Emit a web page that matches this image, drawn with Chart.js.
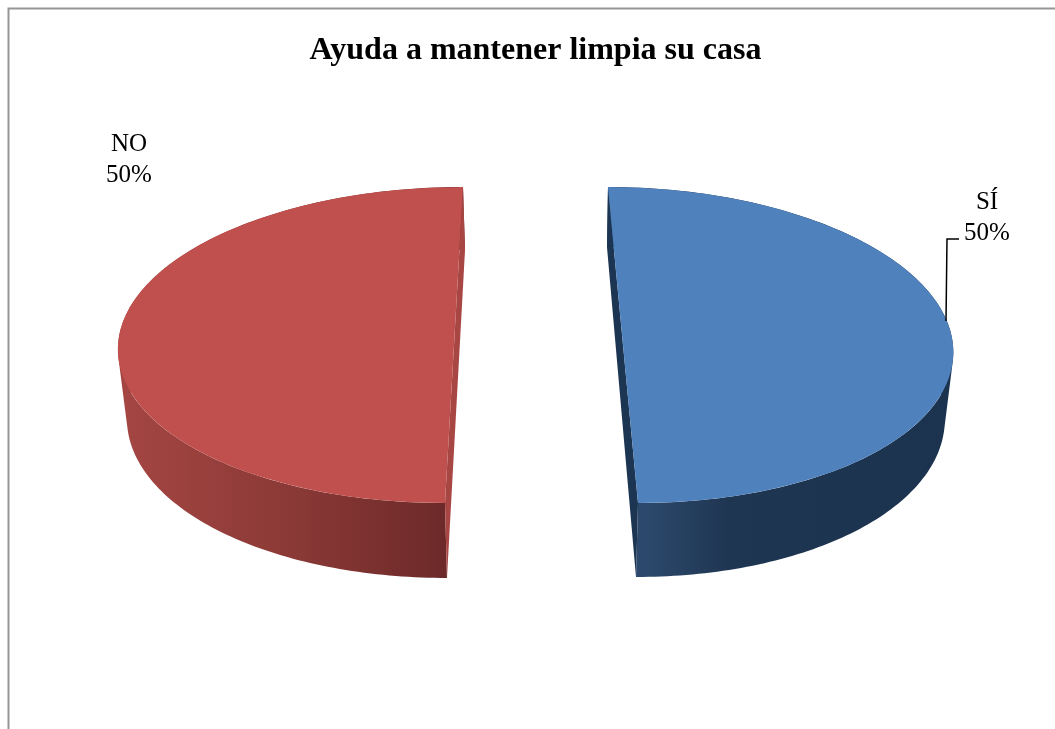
<!DOCTYPE html>
<html>
<head>
<meta charset="utf-8">
<style>
  html, body { margin: 0; padding: 0; background: #fff; overflow: hidden; }
  canvas { display: block; }
</style>
<script src="https://cdn.jsdelivr.net/npm/chart.js@4"></script>
</head>
<body>
<canvas id="mainChart" width="1055" height="729"></canvas>
<script>
const titleText = "Ayuda a mantener limpia su casa";
const categories = ["SÍ", "NO"];
const values = [50, 50];

const topColors = ["#4F81BD", "#C0504D"];
const innerColors = ["#1C3553", "#A84643"];
const sideStops = [
  [[0, "#2D4A6E"], [0.3, "#1F3652"], [1, "#1C3350"]],
  [[0, "#A54643"], [0.5, "#8C3A37"], [1, "#6C2929"]],
];

// top face and bottom face of every slice, the picture has perspective
// so the two slices lean in different directions
const sliceViews = [
  {
    top: { cx: 623, cy: 345, rx: 330, ry: 158, lean: 0.095 },
    bottom: { cx: 621.5, cy: 412, rx: 323, ry: 165, lean: 0.088 },
    sideFrom: 636, sideTo: 950,
  },
  {
    top: { cx: 454, cy: 345, rx: 336, ry: 158, lean: -0.057 },
    bottom: { cx: 456, cy: 414, rx: 329, ry: 164, lean: -0.055 },
    sideFrom: 118, sideTo: 448,
  },
];

const labelSpots = [
  { x: 987, y: 209 },
  { x: 129, y: 151 },
];

function project(face, angle) {
  const c = Math.cos(angle);
  const s = Math.sin(angle);
  return {
    x: face.cx + face.rx * c + face.lean * face.ry * s,
    y: face.cy + face.ry * s,
  };
}

function signedArea(pts) {
  let sum = 0;
  pts.forEach((p, i) => {
    const n = pts[(i + 1) % pts.length];
    sum += p.x * n.y - n.x * p.y;
  });
  return sum;
}

const pie3d = {
  id: "pie3d",
  beforeDatasetsDraw(chart) {
    const { ctx } = chart;
    const arcs = chart.getDatasetMeta(0).data;

    arcs.forEach((arc, i) => {
      const view = sliceViews[i];
      const start = arc.startAngle;
      const end = arc.endAngle;

      ctx.save();

      // curved side, quads in one path so the outline stays straight
      // between the top and the bottom ellipse. All quads wound the same
      // way or the overlaps cancel out
      const grad = ctx.createLinearGradient(view.sideFrom, 0, view.sideTo, 0);
      sideStops[i].forEach((st) => grad.addColorStop(st[0], st[1]));
      ctx.fillStyle = grad;
      ctx.beginPath();
      const steps = 160;
      for (let k = 0; k < steps; k++) {
        const a0 = start + ((end - start) * k) / steps;
        const a1 = start + ((end - start) * (k + 1)) / steps;
        const quad = [
          project(view.top, a0),
          project(view.top, a1),
          project(view.bottom, a1),
          project(view.bottom, a0),
        ];
        if (signedArea(quad) < 0) quad.reverse();
        ctx.moveTo(quad[0].x, quad[0].y);
        ctx.lineTo(quad[1].x, quad[1].y);
        ctx.lineTo(quad[2].x, quad[2].y);
        ctx.lineTo(quad[3].x, quad[3].y);
        ctx.closePath();
      }
      ctx.fill();

      // flat cut face
      const a = project(view.top, start);
      const b = project(view.bottom, start);
      const c = project(view.bottom, end);
      const d = project(view.top, end);
      ctx.fillStyle = innerColors[i];
      ctx.beginPath();
      ctx.moveTo(a.x, a.y);
      ctx.lineTo(b.x, b.y);
      ctx.lineTo(c.x, c.y);
      ctx.lineTo(d.x, d.y);
      ctx.closePath();
      ctx.fill();
      ctx.restore();

      // top face is the library's own arc, squashed
      const t = view.top;
      const R = arc.outerRadius;
      ctx.save();
      ctx.translate(t.cx, t.cy);
      ctx.transform(t.rx / R, 0, (t.lean * t.ry) / R, t.ry / R, 0, 0);
      ctx.translate(-arc.x, -arc.y);
      arc.draw(ctx);
      ctx.restore();
    });
    return false;
  },
  afterDraw(chart) {
    const { ctx } = chart;
    const total = values.reduce((sum, v) => sum + v, 0);

    ctx.save();
    // chart frame, only left and top fall inside the picture
    ctx.strokeStyle = "#969696";
    ctx.lineWidth = 2;
    ctx.beginPath();
    ctx.moveTo(8.5, 729);
    ctx.lineTo(8.5, 8.5);
    ctx.lineTo(1055, 8.5);
    ctx.stroke();

    // leader line of the SÍ label
    ctx.strokeStyle = "#000";
    ctx.lineWidth = 1.5;
    ctx.beginPath();
    ctx.moveTo(946, 321);
    ctx.lineTo(947, 239);
    ctx.lineTo(959, 239);
    ctx.stroke();

    ctx.fillStyle = "#000";
    ctx.font = "25px 'Liberation Serif'";
    ctx.textAlign = "center";
    ctx.textBaseline = "alphabetic";
    categories.forEach((name, i) => {
      const spot = labelSpots[i];
      ctx.fillText(name, spot.x, spot.y);
      ctx.fillText(Math.round((values[i] / total) * 100) + "%", spot.x, spot.y + 30.5);
    });
    ctx.restore();
  },
};

new Chart(document.getElementById("mainChart"), {
  type: "pie",
  data: {
    labels: categories,
    datasets: [
      {
        data: values,
        backgroundColor: topColors,
        borderWidth: 0,
      },
    ],
  },
  options: {
    responsive: false,
    animation: false,
    layout: { padding: { left: 16, top: 32, bottom: 40 } },
    plugins: {
      legend: { display: false },
      tooltip: { enabled: false },
      title: {
        display: true,
        text: titleText,
        color: "#000",
        font: { family: "'Liberation Serif'", size: 32, weight: "bold" },
        padding: { top: 0, bottom: 10 },
      },
    },
  },
  plugins: [pie3d],
});
</script>
</body>
</html>
